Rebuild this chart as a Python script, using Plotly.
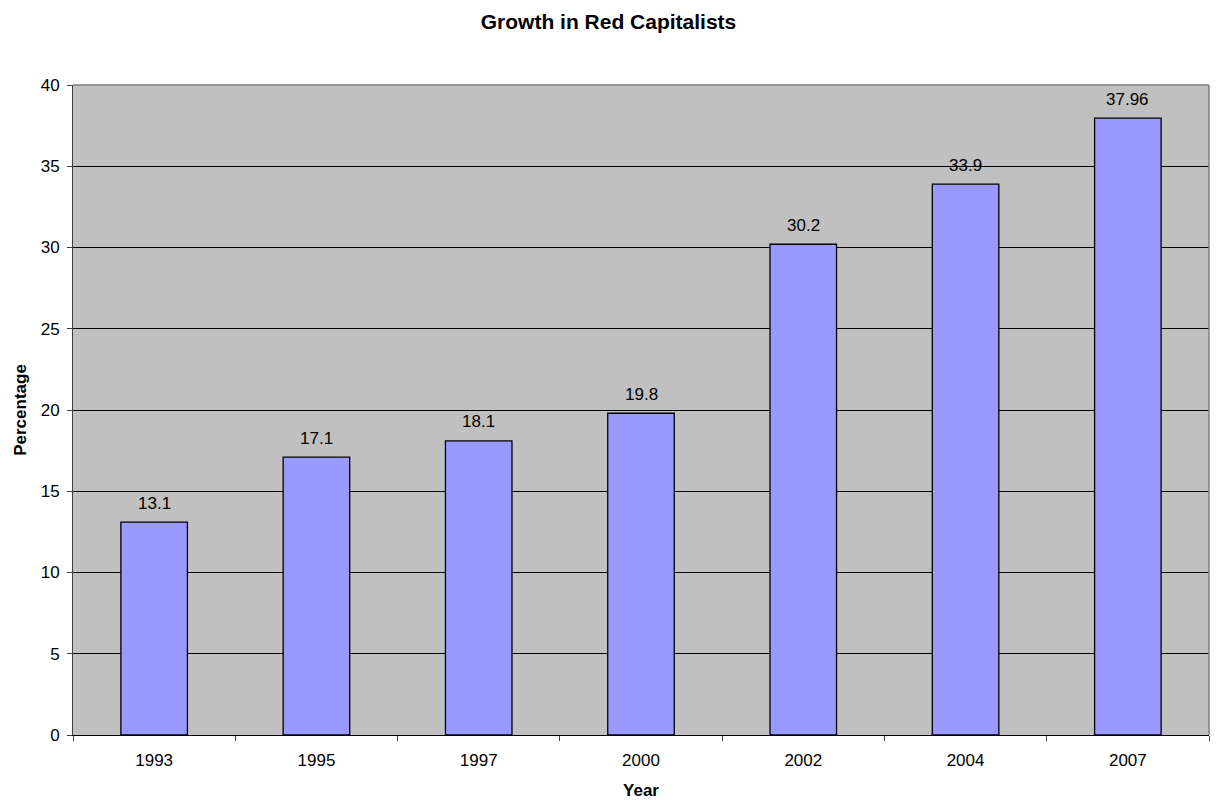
import plotly.graph_objects as go

years = ["1993", "1995", "1997", "2000", "2002", "2004", "2007"]
values = [13.1, 17.1, 18.1, 19.8, 30.2, 33.9, 37.96]
labels = ["13.1", "17.1", "18.1", "19.8", "30.2", "33.9", "37.96"]

font = "Liberation Sans, Arial, sans-serif"

fig = go.Figure(go.Bar(
    x=years, y=values,
    marker=dict(color="#9999FF", line=dict(color="black", width=1.3)),
    width=0.41,
))

fig.update_layout(
    width=1217, height=802,
    margin=dict(l=73, r=8, t=85, b=67),
    paper_bgcolor="white", plot_bgcolor="#C0C0C0",
    font=dict(family=font, size=17, color="black"),
    title=dict(text="<b>Growth in Red Capitalists</b>", x=0.5, xanchor="center",
               y=1 - 22 / 802, yanchor="middle", font=dict(size=21)),
    showlegend=False,
    xaxis=dict(
        type="category", tickson="boundaries", ticks="outside", ticklen=5,
        tickcolor="#404040", showline=True, linecolor="black", linewidth=1,
        showgrid=False, range=[-0.5, 6.5], ticklabelstandoff=10, automargin=False,
        title=dict(text="<b>Year</b>", standoff=14, font=dict(size=17)),
        tickfont=dict(size=17),
    ),
    yaxis=dict(
        range=[0, 40], dtick=5, ticks="outside", ticklen=5, tickcolor="#404040",
        showline=True, linecolor="#404040", linewidth=1, ticklabelstandoff=4,
        automargin=False,
        showgrid=True, gridcolor="black", gridwidth=1, zeroline=False,
        title=dict(text="<b>Percentage</b>", standoff=9, font=dict(size=17)),
        tickfont=dict(size=17),
    ),
)

for i, (v, lab) in enumerate(zip(values, labels)):
    fig.add_annotation(x=i, y=v, xref="x", yref="y", text=lab, showarrow=False,
                       yanchor="middle", yshift=19,
                       font=dict(family=font, size=17, color="black"))

fig.add_shape(type="line", xref="paper", yref="paper", x0=0, x1=1, y0=1, y1=1,
              line=dict(color="#808080", width=1.5), layer="above")
fig.add_shape(type="line", xref="paper", yref="paper", x0=1, x1=1, y0=0, y1=1,
              line=dict(color="#808080", width=1.5), layer="above")

fig.write_html("out.html")
